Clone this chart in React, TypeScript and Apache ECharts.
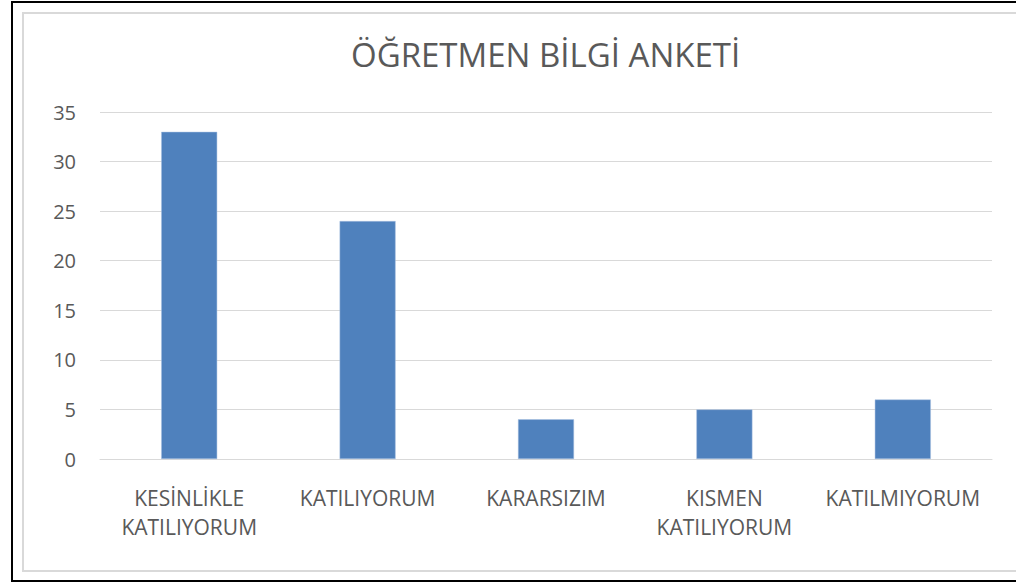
import React, { useEffect, useRef } from "react";
import * as echarts from "echarts";

const categories: string[] = [
  "KESİNLİKLE\nKATILIYORUM",
  "KATILIYORUM",
  "KARARSIZIM",
  "KISMEN\nKATILIYORUM",
  "KATILMIYORUM",
];
const values: number[] = [33, 24, 4, 5, 6];
const yTicks = { min: 0, max: 35, interval: 5 };
const title = "ÖĞRETMEN BİLGİ ANKETİ";

const FONT = "'Open Sans', sans-serif";
const TEXT = "#595959";

export default function App() {
  const ref = useRef<HTMLDivElement>(null);
  useEffect(() => {
    if (!ref.current) return;
    const chart = echarts.init(ref.current, undefined, { renderer: "svg" });
    chart.setOption({
      animation: false,
      backgroundColor: "#ffffff",
      title: {
        text: title,
        left: 346,
        top: 33,
        textStyle: { fontFamily: FONT, fontSize: 33, fontWeight: "normal", color: TEXT },
      },
      graphic: [
        {
          type: "rect",
          shape: { x: 12, y: 2, width: 1100, height: 579 },
          style: { fill: "none", stroke: "#000000", lineWidth: 2 },
          silent: true,
        },
        {
          type: "rect",
          shape: { x: 23, y: 13, width: 1100, height: 558 },
          style: { fill: "none", stroke: "#d9d9d9", lineWidth: 2 },
          silent: true,
        },
      ],
      grid: { left: 100, right: 24, top: 112, bottom: 124, containLabel: false },
      xAxis: {
        type: "category",
        data: categories,
        axisTick: { show: false },
        axisLine: { show: true, lineStyle: { color: "#d9d9d9", width: 1 } },
        axisLabel: {
          interval: 0,
          margin: 24,
          color: TEXT,
          fontFamily: FONT,
          fontSize: 21,
          lineHeight: 29,
        },
      },
      yAxis: {
        type: "value",
        min: yTicks.min,
        max: yTicks.max,
        interval: yTicks.interval,
        axisLine: { show: false },
        axisTick: { show: false },
        splitLine: { lineStyle: { color: "#d9d9d9", width: 1 } },
        axisLabel: { margin: 24, color: TEXT, fontFamily: FONT, fontSize: 20 },
      },
      series: [
        {
          type: "bar",
          data: values,
          barWidth: 56,
          itemStyle: { color: "#4f81bd", borderColor: "#a9c1e0", borderWidth: 0.5 },
        },
      ],
    });
    return () => chart.dispose();
  }, []);
  return (
    <div
      ref={ref}
      style={{ position: "absolute", left: 0, top: 0, width: 1016, height: 583, background: "#fff" }}
    />
  );
}
